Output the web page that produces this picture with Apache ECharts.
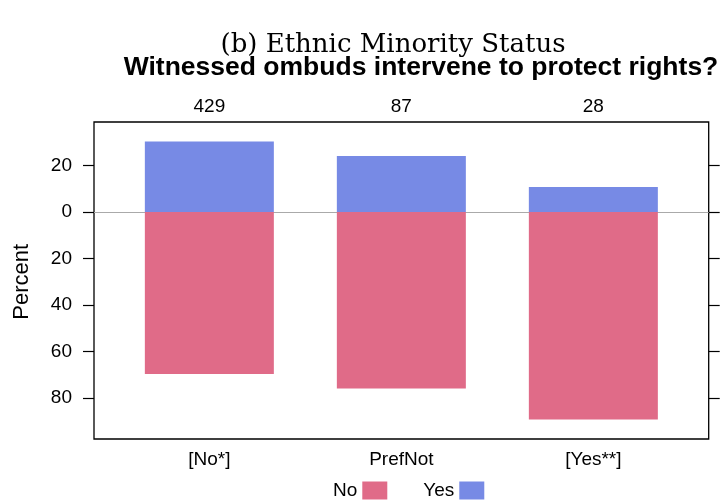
<!DOCTYPE html>
<html>
<head>
<meta charset="utf-8">
<script src="https://cdn.jsdelivr.net/npm/echarts@6/dist/echarts.min.js"></script>
<style>
  html, body { margin: 0; padding: 0; background: #fff; }
  #chart { width: 723px; height: 500px; }
</style>
</head>
<body>
<div id="chart"></div>
<script>
const categories = ['[No*]', 'PrefNot', '[Yes**]'];
const counts = ['429', '87', '28'];
const noPct = [69.7, 75.9, 89.3];
const yesPct = [30.3, 24.1, 10.7];
const seriesNames = ['No', 'Yes'];

const noColor = '#E06B88';
const yesColor = '#778AE5';

// plot frame geometry (px) and y scale
const frameLeft = 94, frameRight = 708.7, frameTop = 122, frameBottom = 439;
const zeroY = 212, pxPerUnit = 2.325;
const yTop = (zeroY - frameTop) / pxPerUnit;
const yBottom = -(frameBottom - zeroY) / pxPerUnit;
const barBand = 192;
const barCenter = (frameLeft + frameRight) / 2;

const myChart = echarts.init(document.getElementById('chart'));

const option = {
  animation: false,
  title: [
    {
      text: '(b) Ethnic Minority Status',
      left: 388, top: 27, textAlign: 'center',
      textStyle: { fontFamily: 'DejaVu Serif', fontWeight: 'normal', fontSize: 26, color: '#000' }
    },
    {
      text: 'Witnessed ombuds intervene to protect rights?',
      left: 416, top: 49, textAlign: 'center',
      textStyle: { fontFamily: 'Liberation Sans', fontWeight: 'bold', fontSize: 26.5, color: '#000' }
    }
  ],
  legend: {
    data: seriesNames,
    left: 328, top: 476,
    align: 'right',
    icon: 'rect',
    itemWidth: 25, itemHeight: 18, itemGap: 36,
    textStyle: { fontFamily: 'Liberation Sans', fontSize: 19, color: '#000' }
  },
  grid: [
    // frame
    { left: frameLeft, top: frameTop, width: frameRight - frameLeft, height: frameBottom - frameTop,
      show: true, borderColor: '#000', borderWidth: 1.3, backgroundColor: 'transparent' },
    // ticks + zero line
    { left: frameLeft, top: zeroY - 20 * pxPerUnit, width: frameRight - frameLeft, height: 100 * pxPerUnit },
    // bars
    { left: barCenter - 1.5 * barBand, top: frameTop, width: 3 * barBand, height: frameBottom - frameTop }
  ],
  xAxis: [
    { gridIndex: 0, type: 'value', min: 0, max: 1, show: false },
    { gridIndex: 1, type: 'value', min: 0, max: 1,
      axisLine: { show: true, onZero: true, lineStyle: { color: '#aaa', width: 1.2 } },
      axisTick: { show: false }, axisLabel: { show: false }, splitLine: { show: false } },
    { gridIndex: 2, type: 'category', data: categories, position: 'bottom',
      axisLine: { show: false }, axisTick: { show: false },
      axisLabel: { margin: 11, fontFamily: 'Liberation Sans', fontSize: 19, color: '#000' } },
    { gridIndex: 2, type: 'category', data: counts, position: 'top',
      axisLine: { show: false }, axisTick: { show: false },
      axisLabel: { margin: 6, fontFamily: 'Liberation Sans', fontSize: 19, color: '#000' } }
  ],
  yAxis: [
    { gridIndex: 0, type: 'value', min: yBottom, max: yTop, show: false },
    { gridIndex: 1, type: 'value', min: -80, max: 20, interval: 20, position: 'left',
      name: 'Percent', nameLocation: 'middle', nameGap: 61,
      nameTextStyle: { fontFamily: 'Liberation Sans', fontSize: 22, color: '#000' },
      axisLine: { show: false },
      axisTick: { show: true, length: 11, lineStyle: { color: '#000', width: 1.2 } },
      axisLabel: { margin: 22, fontFamily: 'Liberation Sans', fontSize: 19, color: '#000',
        formatter: v => String(Math.abs(v)) },
      splitLine: { show: false } },
    { gridIndex: 1, type: 'value', min: -80, max: 20, interval: 20, position: 'right',
      axisLine: { show: false },
      axisTick: { show: true, length: 11, lineStyle: { color: '#000', width: 1.2 } },
      axisLabel: { show: false }, splitLine: { show: false } },
    { gridIndex: 2, type: 'value', min: yBottom, max: yTop, show: false }
  ],
  series: [
    {
      name: 'No', type: 'bar', xAxisIndex: 2, yAxisIndex: 3, stack: 'pct',
      data: noPct.map(v => -v), barWidth: 129,
      itemStyle: { color: noColor }
    },
    {
      name: 'Yes', type: 'bar', xAxisIndex: 2, yAxisIndex: 3, stack: 'pct',
      data: yesPct, barWidth: 129,
      itemStyle: { color: yesColor }
    }
  ]
};

myChart.setOption(option);
window.onresize = () => {
  myChart.resize();
};
</script>
</body>
</html>
